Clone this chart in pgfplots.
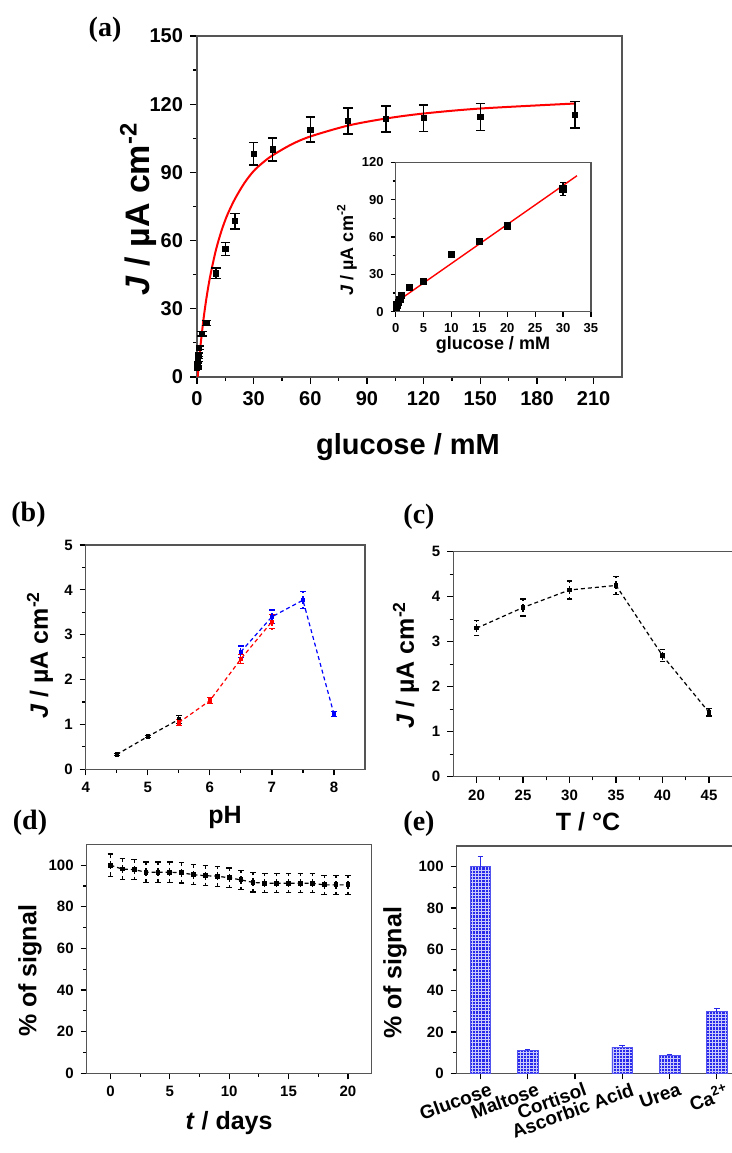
\documentclass[border=0pt]{standalone}
\usepackage{fontspec}
\setmainfont{Liberation Sans}
\newfontfamily\tnr{Liberation Serif}
\usepackage{pgfplots}
\pgfplotsset{compat=1.18}
\usetikzlibrary{patterns.meta}
\definecolor{barblue}{RGB}{40,40,235}
\definecolor{frame}{RGB}{85,85,85}
\newcommand{\fs}[1]{\fontsize{#1}{#1}\selectfont\bfseries}

\tikzdeclarepattern{
  name=finegrid,
  type=uncolored,
  bottom left={(-.1pt,-.1pt)},
  top right={(1.7pt,1.7pt)},
  tile size={(1.6pt,1.6pt)},
  code={\draw[line width=0.25pt] (0,0.8pt) -- (1.6pt,0.8pt) (0.8pt,0) -- (0.8pt,1.6pt);}
}

\pgfplotsset{
  panel/.style={
    scale only axis, anchor=south west,
    axis line style={frame, line width=0.75pt},
    tick align=outside, tick pos=left,
    major tick length=3pt, minor tick length=1.8pt,
    tick style={black, line width=0.6pt},
    /pgf/number format/assume math mode=true,
    tick label style={font=\fs{7.5}},
  },
  eb/.style={error bars/.cd, y dir=both, y explicit,
    error bar style={line width=0.6pt, #1},
    error mark options={rotate=90, mark size=1.4pt, line width=0.6pt, #1}},
}

\begin{document}
\begin{tikzpicture}
\useasboundingbox (0,0) rectangle (366pt,576.5pt);

% ---------- (a) ----------
\begin{axis}[panel, at={(98.5pt,388pt)}, width=212.5pt, height=170.5pt,
  xmin=0, xmax=225, ymin=0, ymax=150,
  xtick={0,30,...,210}, ytick={0,30,...,150},
  minor x tick num=1, minor y tick num=1,
  major tick length=3.5pt, minor tick length=2pt,
  tick label style={font=\fs{10}}]
\addplot[red, line width=1pt, smooth] coordinates {
 (0.35,0) (1,6.3) (2,14.9) (3.5,25.8) (5,34.7) (7,44.4) (10,55.8) (13,64.4)
 (16,71.2) (20,78.2) (25,85.2) (30,90.6) (35,94.4) (40,97.5) (50,102.3)
 (60,105.8) (80,110.6) (100,113.7) (120,115.9) (150,118.1) (200,120.3)};
\addplot[black, only marks, mark=square*, mark size=1.3pt,
  error bars/.cd, y dir=both, y explicit,
  error bar style={line width=0.8pt},
  error mark options={rotate=90, mark size=2.4pt, line width=0.8pt}]
  table[x=x, y=y, y error=e] {
x y e
0.1 4.0 0.5
0.25 5.6 0.5
0.5 7.5 0.6
0.75 9.8 0.7
1 12.9 0.8
2.5 19.1 1.0
5 23.8 1.1
10 45.6 2.3
15 56.3 2.9
20 68.5 3.5
30 98.2 5.0
40 100.1 5.0
60 108.8 5.5
80 112.6 5.7
100 113.5 5.6
120 113.8 5.8
150 114.4 5.9
200 115.4 5.8
};
\end{axis}

% inset
\begin{axis}[panel, at={(197.85pt,420.65pt)}, width=97.6pt, height=74.7pt,
  xmin=0, xmax=35, ymin=0, ymax=120,
  xtick={0,5,...,35}, ytick={0,30,...,120},
  minor y tick num=1,
  major tick length=2.5pt, minor tick length=1.5pt,
  axis background/.style={fill=white},
  tick label style={font=\fs{6.5}}]
\addplot[red, line width=0.7pt] coordinates {(0.5,9.0) (32.5,109.2)};
\addplot[black, only marks, mark=square*, mark size=1.6pt,
  eb={black}]
  table[x=x, y=y, y error=e] {
x y e
0.1 4.0 0.5
0.25 5.6 0.5
0.5 7.5 0.6
0.75 9.8 0.7
1 12.9 0.8
2.5 19.3 1.0
5 24.1 1.0
10 46.1 1.5
15 56.5 2.0
20 68.8 3.0
30 98.6 5.0
};
\end{axis}

% ---------- (b) ----------
\begin{axis}[panel, at={(42.85pt,191.85pt)}, width=139.65pt, height=112.15pt,
  xmin=4, xmax=8.5, ymin=0, ymax=5,
  xtick={4,5,6,7,8}, ytick={0,1,...,5},
  minor x tick num=1, minor y tick num=1]
\addplot[black, dash pattern=on 2pt off 1.5pt, line width=0.6pt,
  mark=square*, mark size=0.8pt, mark options={solid}, eb={black}]
  table[x=x, y=y, y error=e] {
x y e
4.5 0.33 0.02
5 0.73 0.03
5.5 1.11 0.09
};
\addplot[red, dash pattern=on 2pt off 1.5pt, line width=0.6pt,
  mark=square*, mark size=0.8pt, mark options={solid}, eb={red}]
  table[x=x, y=y, y error=e] {
x y e
5.5 1.04 0.07
6 1.53 0.07
6.5 2.46 0.10
7 3.29 0.16
};
\addplot[blue, dash pattern=on 2pt off 1.5pt, line width=0.6pt,
  mark=square*, mark size=0.8pt, mark options={solid}, eb={blue}]
  table[x=x, y=y, y error=e] {
x y e
6.5 2.62 0.13
7 3.40 0.15
7.5 3.77 0.19
8 1.23 0.06
};
\end{axis}

% ---------- (c) ----------
\begin{axis}[panel, at={(226.65pt,188.15pt)}, width=139.5pt, height=112.5pt,
  xmin=17.5, xmax=47.5, ymin=0, ymax=5,
  xtick={20,25,...,45}, ytick={0,1,...,5},
  minor x tick num=1, minor y tick num=1]
\addplot[black, dash pattern=on 2pt off 1.5pt, line width=0.6pt,
  mark=square*, mark size=0.8pt, mark options={solid}, eb={black}]
  table[x=x, y=y, y error=e] {
x y e
20 3.30 0.17
25 3.76 0.19
30 4.15 0.20
35 4.25 0.20
40 2.69 0.13
45 1.43 0.08
};
\end{axis}

% ---------- (d) ----------
\begin{axis}[panel, at={(43.35pt,39.85pt)}, width=142.5pt, height=114.5pt,
  xmin=-2, xmax=22, ymin=0, ymax=110,
  xtick={0,5,...,20}, ytick={0,20,...,100},
  minor x tick num=1, minor y tick num=1]
\addplot[black, dash pattern=on 2pt off 1.5pt, line width=0.6pt,
  mark=square*, mark size=0.9pt, mark options={solid}, eb={black}]
  table[x=x, y=y, y error=e] {
x y e
0 100 5.3
1 98.1 4.9
2 97.8 4.9
3 96.6 4.9
4 96.6 4.9
5 96.6 4.9
6 96.3 4.9
7 95.4 4.8
8 94.9 4.8
9 94.7 4.8
10 93.9 4.7
11 92.9 4.7
12 91.7 4.6
13 91.3 4.6
14 91.3 4.6
15 91.3 4.6
16 91.3 4.6
17 91.3 4.6
18 90.5 4.6
19 90.5 4.6
20 90.5 4.6
};
\end{axis}

% ---------- (e) ----------
\begin{axis}[panel, at={(228.35pt,39.85pt)}, width=141.9pt, height=113.65pt,
  xmin=-0.5, xmax=5.5, ymin=0, ymax=110,
  xtick={0,...,5}, ytick={0,20,...,100}, minor y tick num=1,
  xticklabels={Glucose, Maltose, Cortisol, Ascorbic Acid, Urea, Ca\textsuperscript{2+}},
  x tick label style={font=\fs{9.5}, rotate=20, anchor=north east, inner sep=0.5pt,
    xshift=4pt, yshift=-2pt},
  ybar, bar width=10.35pt]
\addplot[draw=barblue!80, fill=barblue, postaction={pattern=finegrid, pattern color=white!75!barblue},
  error bars/.cd, y dir=plus, y explicit,
  error bar style={line width=0.6pt, barblue},
  error mark options={rotate=90, mark size=1.4pt, line width=0.6pt, barblue}]
  table[x=x, y=y, y error=e] {
x y e
0 100 5.1
1 10.9 0.5
3 12.7 0.6
4 8.7 0.4
5 29.9 1.4
};
\end{axis}

% ---------- labels ----------
\node[font=\tnr\bfseries\fontsize{14}{14}\selectfont] at (52.5pt,561.5pt) {(a)};
\node[font=\tnr\bfseries\fontsize{14}{14}\selectfont] at (14.25pt,319pt) {(b)};
\node[font=\tnr\bfseries\fontsize{14}{14}\selectfont] at (209.5pt,318.25pt) {(c)};
\node[font=\tnr\bfseries\fontsize{14}{14}\selectfont] at (15pt,165pt) {(d)};
\node[font=\tnr\bfseries\fontsize{14}{14}\selectfont] at (209.5pt,164.5pt) {(e)};

\node[font=\fs{14.5}] at (204pt,353pt) {glucose / mM};
\node[font=\fs{17}, rotate=90] at (69pt,472pt) {\textit{J} / µA cm\textsuperscript{-2}};
\node[font=\fs{9}] at (246.5pt,404pt) {glucose / mM};
\node[font=\fs{9}, rotate=90] at (173.5pt,451.5pt) {\textit{J} / µA cm\textsuperscript{-2}};

\node[font=\fs{12.5}] at (112.5pt,168pt) {pH};
\node[font=\fs{12.5}, rotate=90] at (20pt,249pt) {\textit{J} / µA cm\textsuperscript{-2}};
\node[font=\fs{12.5}] at (294pt,165.5pt) {T / °C};
\node[font=\fs{12.5}, rotate=90] at (203pt,244pt) {\textit{J} / µA cm\textsuperscript{-2}};
\node[font=\fs{12.5}, rotate=90] at (15pt,91pt) {\% of signal};
\node[font=\fs{12.5}] at (114.5pt,15pt) {\textit{t} / days};
\node[font=\fs{12.5}, rotate=90] at (197.5pt,90pt) {\% of signal};
\end{tikzpicture}
\end{document}
